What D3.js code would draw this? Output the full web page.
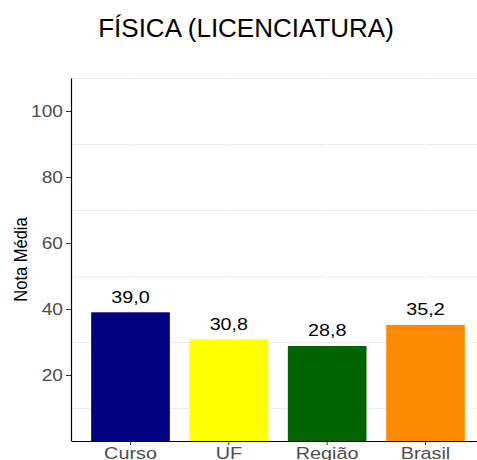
<!DOCTYPE html>
<html>
<head>
<meta charset="utf-8">
<script src="https://cdn.jsdelivr.net/npm/d3@7"></script>
<style>
  html, body { margin: 0; padding: 0; background: #fff; }
  svg { display: block; font-family: "Liberation Sans", Arial, sans-serif; }
</style>
</head>
<body>
<svg id="chart" width="477" height="460"></svg>
<script>
const categories = ["Curso", "UF", "Região", "Brasil"];
const values = [39.0, 30.8, 28.8, 35.2];
const barColors = ["#000080", "#FFFF00", "#006400", "#FF8C00"];
const yTicks = [20, 40, 60, 80, 100];
const yMinorGrid = [10, 30, 50, 70, 90, 110];
const titleText = "FÍSICA (LICENCIATURA)";
const yTitle = "Nota Média";

const svg = d3.select("#chart");
const pLeft = 71.5, pRight = 484.5, pTop = 78, pBottom = 441;

const x = d3.scaleBand().domain(categories).range([pLeft, pRight])
  .paddingInner(0.2).paddingOuter(0.2);
const y = d3.scaleLinear().domain([0, 110]).range([pBottom, pTop]);

// minor grid lines
svg.append("g").selectAll("line").data(yMinorGrid).join("line")
  .attr("x1", pLeft).attr("x2", 477)
  .attr("y1", d => Math.round(y(d)) + 0.5).attr("y2", d => Math.round(y(d)) + 0.5)
  .attr("stroke", "#ededed").attr("stroke-width", 1);
// white vertical major grid lines
svg.append("g").selectAll("line").data(categories).join("line")
  .attr("x1", d => x(d) + x.bandwidth() / 2).attr("x2", d => x(d) + x.bandwidth() / 2)
  .attr("y1", pTop).attr("y2", pBottom)
  .attr("stroke", "#fff").attr("stroke-width", 1.5);

// bars
svg.append("g").selectAll("rect").data(values).join("rect")
  .attr("x", (d, i) => x(categories[i]))
  .attr("width", x.bandwidth())
  .attr("y", d => y(d))
  .attr("height", d => y(0) - y(d))
  .attr("fill", (d, i) => barColors[i]);

// value labels
svg.append("g").selectAll("text").data(values).join("text")
  .attr("transform", (d, i) => `translate(${x(categories[i]) + x.bandwidth() / 2},${y(d) - 9.6}) scale(1.21,1)`)
  .attr("text-anchor", "middle")
  .attr("font-size", "16.3px")
  .attr("fill", "#000")
  .text(d => d.toFixed(1).replace(".", ","));

// y axis
const yAxis = svg.append("g").attr("transform", `translate(${pLeft - 0.5},0)`)
  .call(d3.axisLeft(y).tickValues(yTicks).tickSize(5).tickSizeOuter(0).tickPadding(3));
yAxis.select(".domain").attr("stroke", "#000").attr("stroke-width", 1.2);
yAxis.selectAll(".tick line").attr("stroke", "#333");
yAxis.selectAll(".tick text")
  .attr("x", 0)
  .attr("transform", "translate(-8,0) scale(1.16,1)")
  .attr("font-size", "16.5px")
  .attr("font-family", "Liberation Sans, Arial, sans-serif")
  .attr("fill", "#4d4d4d");

// x axis
const xAxis = svg.append("g").attr("transform", `translate(0,${pBottom})`)
  .call(d3.axisBottom(x).tickSize(4).tickSizeOuter(0).tickPadding(4));
xAxis.select(".domain").attr("stroke", "#000").attr("stroke-width", 1.2);
xAxis.selectAll(".tick line").attr("stroke", "#333");
xAxis.selectAll(".tick text")
  .attr("y", 0).attr("dy", 0)
  .attr("transform", "translate(0,18) scale(1.2,1)")
  .attr("font-size", "16.5px")
  .attr("font-family", "Liberation Sans, Arial, sans-serif")
  .attr("fill", "#4d4d4d");

// y title
svg.append("text")
  .attr("transform", `translate(26.5,${(pTop + pBottom) / 2}) rotate(-90) scale(1,1.14)`)
  .attr("text-anchor", "middle")
  .attr("font-size", "16.5px")
  .attr("fill", "#000")
  .text(yTitle);

// title
svg.append("text")
  .attr("transform", "translate(246,37) scale(1.04,1)")
  .attr("text-anchor", "middle")
  .attr("font-size", "25px")
  .attr("fill", "#000")
  .text(titleText);
</script>
</body>
</html>
